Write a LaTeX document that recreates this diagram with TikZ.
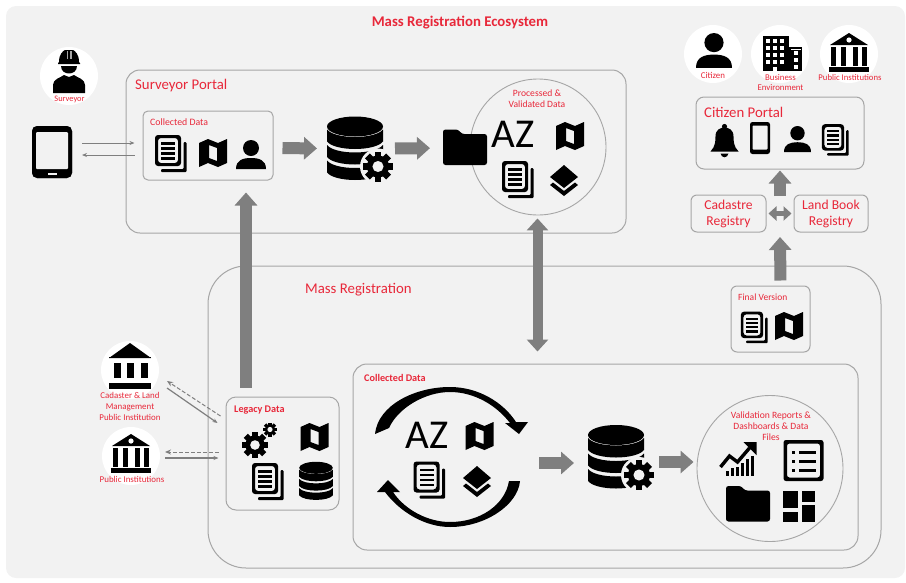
\documentclass[tikz,border=0pt]{standalone}
\usepackage{fontspec}
\setmainfont{Carlito}
\usetikzlibrary{arrows.meta}
\definecolor{bgc}{HTML}{F2F2F2}
\definecolor{redc}{HTML}{E8283A}
\definecolor{edgec}{HTML}{A6A6A6}
\definecolor{arrc}{HTML}{7F7F7F}
\tikzset{
  panel/.style={draw=edgec,line width=1pt,fill=bgc,inner sep=0pt},
  disc/.style={circle,fill=white,inner sep=0pt,minimum size=58pt},
  ring/.style={circle,draw=edgec,line width=.9pt,fill=bgc,inner sep=0pt},
  anchorbox/.style={inner sep=0pt,outer sep=0pt},
  tinyred/.style={text=redc,inner sep=0pt,font=\fontsize{8.9}{10.6}\selectfont,align=center},
  smallred/.style={text=redc,inner sep=0pt,font=\fontsize{9.6}{11.6}\selectfont,align=center},
  boldred/.style={text=redc,inner sep=0pt,font=\fontsize{10.2}{12}\selectfont\bfseries},
  bigred/.style={text=redc,inner sep=0pt,font=\fontsize{14.8}{16}\selectfont,align=center},
  azlabel/.style={inner sep=0pt,font=\fontsize{41}{43}\selectfont},
  blockarrow/.style={draw=arrc,line width=12pt,-{Triangle[width=22pt,length=13pt]}},
  twinblock/.style={draw=arrc,line width=10pt,{Triangle[width=21pt,length=12pt]}-{Triangle[width=21pt,length=12pt]}},
  smalltwin/.style={draw=arrc,line width=5pt,{Triangle[width=14pt,length=8pt]}-{Triangle[width=14pt,length=8pt]}},
  thinarrow/.style={draw=arrc,line width=1pt,-{Stealth[length=5pt,width=4pt]}},
  dasharrow/.style={draw=arrc,line width=1pt,dashed,dash pattern=on 4pt off 2pt,-{Stealth[length=6pt,width=5pt]}},
  icdocs/.pic={
    \fill[even odd rule,rounded corners=3pt] (-16,-18) rectangle (10,13) (-13,-15) rectangle (7,10);
    \foreach \yy in {-11,-6,-1,4} \fill (-10,\yy) rectangle (4,\yy+2.6);
    \fill[rounded corners=1pt] (12.5,-11) -- (15.5,-11) -- (15.5,19) -- (-10,19) -- (-10,16) -- (12.5,16) -- cycle;
  },
  icmap/.pic={
    \fill[even odd rule] (-14,-10) -- (-5,-14) -- (5,-10) -- (14,-14) -- (14,10) -- (5,14) -- (-5,10) -- (-14,14) -- cycle
      (-4,-8) -- (4,-5) -- (4,8) -- (-4,5) -- cycle;
  },
  icperson/.pic={
    \fill (0,-7) circle[radius=8];
    \fill (-15,14) .. controls (-15,5) and (-8,3) .. (0,3) .. controls (8,3) and (15,5) .. (15,14) -- cycle;
  },
  icdb/.pic={
    \fill (0,-22) ellipse[x radius=28,y radius=10];
    \foreach \yy in {-19,-3.5,12}
      \fill (-28,\yy) .. controls (-20,\yy+10) and (20,\yy+10) .. (28,\yy) -- (28,\yy+12) .. controls (20,\yy+22) and (-20,\yy+22) .. (-28,\yy+12) -- cycle;
  },
  icgear/.pic={
    \fill (0,0) circle[radius=7.4];
    \foreach \aa in {0,45,90,135} \fill[rotate=\aa] (-2.3,-10) rectangle (2.3,10);
    \fill[bgc] (0,0) circle[radius=3.7];
  },
  icdbgear/.pic={
    \pic {icdb};
    \fill[bgc] (23,18) circle[radius=18];
    \pic[shift={(23,18)},scale=1.5] {icgear};
  },
  icfolder/.pic={
    \fill[rounded corners=2.5pt] (-22,-18) -- (-7,-18) -- (-3,-13.5) -- (22,-13.5) -- (22,17.5) -- (-22,17.5) -- cycle;
  },
  ictablet/.pic={
    \fill[even odd rule,rounded corners=5pt] (-20,-26) rectangle (20,26) (-20,-26) rectangle (20,26);
    \fill[rounded corners=5pt] (-20,-26) rectangle (20,26);
    \fill[bgc,rounded corners=1pt] (-16,-20) rectangle (16,17);
    \fill[bgc] (-4.5,20.5) rectangle (4.5,22.5);
  },
  icphone/.pic={
    \fill[rounded corners=2.5pt] (-10,-16) rectangle (10,16);
    \fill[bgc,rounded corners=.8pt] (-7.5,-12.5) rectangle (7.5,11.5);
  },
  icbell/.pic={
    \fill (-14,11) .. controls (-9,6) and (-9,0) .. (-9,-4) .. controls (-9,-11) and (-4,-13) .. (0,-13) .. controls (4,-13) and (9,-11) .. (9,-4) .. controls (9,0) and (9,6) .. (14,11) -- cycle;
    \fill (0,-14) circle[radius=2.6];
    \fill (-4,13) .. controls (-3,18) and (3,18) .. (4,13) -- cycle;
  },
  icbanka/.pic={
    \fill (-21,-12) -- (0,-27) -- (21,-12) -- cycle;
    \fill (-21,-13) rectangle (21,-12);
    \foreach \xx in {-16,-3,11} \fill (\xx,-7) rectangle (\xx+7,8);
    \fill (-21,13) rectangle (21,19);
  },
  icbankb/.pic={
    \fill (-19,-8) -- (0,-20) -- (19,-8) -- cycle;
    \fill[white] (0,-13) circle[radius=2.6];
    \foreach \xx in {-18,-8.5,3.5,13} \fill (\xx,-6) rectangle (\xx+5,13);
    \fill (-20,14) rectangle (20,19);
  },
  icbuilding/.pic={
    \fill (-17,-17) rectangle (9,18);
    \fill (9,-6) rectangle (22,18);
    \foreach \xx in {-14,-7,0} \foreach \yy in {-14,-7,0,7} \fill[white] (\xx,\yy) rectangle (\xx+4,\yy+4);
    \foreach \yy in {-2,5,12} \fill[white] (14,\yy) rectangle (18,\yy+3.5);
    \fill[white] (-7,14) rectangle (-3,18);
    \fill[white] (10.5,-4) rectangle (20.5,-3);
  },
  iclayers/.pic={
    \fill (-14,-3) -- (0,-15) -- (14,-3) -- (0,8) -- cycle;
    \fill (-14,5) -- (-11,2.5) -- (0,11) -- (11,2.5) -- (14,5) -- (0,16) -- cycle;
  },
  icchart/.pic={
    \foreach \xx/\hh in {-12/5,-7/8,-2/9,3/13,8/17,13/20} \fill (\xx,17) rectangle (\xx+3.2,17-\hh);
    \draw[line width=5.5pt,line join=miter,bgc] (-17,8) -- (-8,-3) -- (0,3) -- (12,-11);
    \draw[line width=3.4pt,line join=miter] (-17,8) -- (-8,-3) -- (0,3) -- (12,-11);
    \fill (6,-17) -- (19,-17) -- (19,-4) -- cycle;
  },
  iclist/.pic={
    \fill[even odd rule,rounded corners=2.5pt] (-20,-20.5) rectangle (20,20.5) (-16.5,-17) rectangle (16.5,17);
    \foreach \yy in {-10,-1,8} {\fill (-12,\yy) rectangle (-8.5,\yy+3);\fill (-5,\yy) rectangle (12,\yy+3);}
  },
  icdash/.pic={
    \fill (-16,-15.5) rectangle (-1,1.5);
    \fill (-16,5) rectangle (-1,15.5);
    \fill (3,-15.5) rectangle (16,-5);
    \fill (3,-2) rectangle (16,15.5);
  },
  icworker/.pic={
    \fill (-10,-10) .. controls (-10,-18) and (-6,-21) .. (-4,-22) -- (4,-22) .. controls (6,-21) and (10,-18) .. (10,-10) -- (11,-9) -- (11,-8) -- (-11,-8) -- (-11,-9) -- cycle;
    \fill[edgec] (-2.5,-21) rectangle (2.5,-13);
    \fill[black] (-1,-21) rectangle (1,-12);
    \fill (-8,-6) .. controls (-8,4) and (8,4) .. (8,-6) -- cycle;
    \fill (-16,21) -- (-16,13) .. controls (-16,7) and (-9,6) .. (-5,3) -- (0,5) -- (5,3) .. controls (9,6) and (16,7) .. (16,13) -- (16,21) -- cycle;
  }
}
\begin{document}
\begin{tikzpicture}[x=1pt,y=-1pt]
\useasboundingbox (0,0) rectangle (906,582);
% backdrop
\node[fill=bgc,rounded corners=10pt,inner sep=0pt,minimum width=899pt,minimum height=572pt] (backdrop) at (455.5,292) {};
\node[text=redc,inner sep=0pt,font=\fontsize{14.8}{16}\selectfont\bfseries] (title) at (460,23) {Mass Registration Ecosystem};

% main panels
\node[panel,rounded corners=14pt,minimum width=500pt,minimum height=163pt] (portal) at (376,151.5) {};
\node[panel,rounded corners=38pt,minimum width=673pt,minimum height=302pt] (mass) at (544.5,417) {};
\node[panel,rounded corners=5pt,minimum width=130pt,minimum height=69pt] (colbox) at (208,145.5) {};
\node[ring,minimum size=136pt] (procircle) at (538,147) {};
\node[panel,rounded corners=14pt,minimum width=505pt,minimum height=186pt] (collected) at (605.5,457) {};
\node[ring,minimum size=146pt] (valcircle) at (770,468.5) {};
\node[panel,rounded corners=10pt,minimum width=113pt,minimum height=113pt] (legacy) at (282.5,453.5) {};
\node[panel,rounded corners=8pt,minimum width=168pt,minimum height=72pt] (citizenbox) at (780,133) {};
\node[panel,rounded corners=6pt,minimum width=75pt,minimum height=37pt] (cadastre) at (728.5,213.5) {};
\node[panel,rounded corners=6pt,minimum width=74pt,minimum height=37pt] (landbook) at (831,213.5) {};
\node[panel,rounded corners=6pt,minimum width=79pt,minimum height=66pt] (finalbox) at (770.5,319) {};

% discs
\node[disc] (surveyor) at (69,76) {};
\node[disc] (citizen) at (713,54) {};
\node[disc] (business) at (780,54) {};
\node[disc] (publicA) at (849,54) {};
\node[disc] (cadinst) at (130,370) {};
\node[disc] (pubinst) at (131,456) {};

% icon frames
\node[anchorbox,minimum width=40pt,minimum height=52pt] (tablet) at (52,152) {};
\node[anchorbox,minimum width=66pt,minimum height=64pt] (dbone) at (360,148.5) {};
\node[anchorbox,minimum width=44pt,minimum height=35pt] (folderone) at (465,147.5) {};
\node[anchorbox,minimum width=66pt,minimum height=65pt] (dbtwo) at (621,459.5) {};
\coordinate (looparrow) at (539,463);
\coordinate (regtip) at (780,237);
\coordinate (regbase) at (780,196);

% connectors
\draw[thinarrow,shorten <=10pt,shorten >=8pt] ([yshift=9pt]tablet.east) -- ([yshift=2.5pt]colbox.west);
\draw[thinarrow,shorten <=8pt,shorten >=10pt] ([yshift=-9.5pt]colbox.west) -- ([yshift=-3pt]tablet.east);
\draw[blockarrow,shorten <=9pt,shorten >=10pt] ([yshift=-2.5pt]colbox.east) -- (dbone.west);
\draw[blockarrow,shorten <=2pt,shorten >=13pt] (dbone.east) -- ([yshift=-.5pt]folderone.west);
\draw[blockarrow,shorten <=9pt,shorten >=12pt] ([xshift=-36.5pt]legacy.north) -- ([xshift=38pt]colbox.south);
\draw[twinblock,shorten <=3pt,shorten >=12pt] ([xshift=-.5pt]procircle.south) -- ([xshift=-68pt]collected.north);
\draw[dasharrow] ([xshift=-5pt,yshift=37.5pt]legacy.west) -- ([xshift=37pt,yshift=-11pt]cadinst.center);
\draw[thinarrow,line width=1.2pt] ([xshift=37pt,yshift=-18pt]cadinst.center) -- ([xshift=-8pt,yshift=30.5pt]legacy.west);
\draw[dasharrow] ([xshift=-7pt,yshift=1.5pt]legacy.west) -- ([xshift=34pt,yshift=4pt]pubinst.center);
\draw[thinarrow,line width=1.2pt] ([xshift=34pt,yshift=-2pt]pubinst.center) -- ([xshift=-7pt,yshift=-4.5pt]legacy.west);
\draw[blockarrow,shorten >=14pt] (looparrow) -- ([yshift=-3.5pt]dbtwo.west);
\draw[blockarrow,shorten <=5pt,shorten >=3pt] ([yshift=-2.5pt]dbtwo.east) -- ([yshift=6.5pt]valcircle.west);
\draw[blockarrow,shorten >=1pt] (regbase) -- (citizenbox.south);
\draw[smalltwin,shorten <=2pt,shorten >=2pt] (cadastre.east) -- (landbook.west);
\draw[blockarrow,shorten <=5pt] ([xshift=10pt]finalbox.north) -- (regtip);

% texts
\node[tinyred,font=\fontsize{8.4}{10}\selectfont] (tsurveyor) at (69.5,99) {Surveyor};
\node[bigred,anchor=west] (tportal) at (135,86) {Surveyor Portal};
\node[tinyred,font=\fontsize{9.8}{11}\selectfont,anchor=west] (tcol) at (150,122) {Collected Data};
\node[smallred] (tproc) at (537,98.5) {Processed \&\\Validated Data};
\node[bigred,anchor=west] (tmass) at (305,289.5) {Mass Registration};
\node[boldred,anchor=west] (tlegacy) at (234,410) {Legacy Data};
\node[boldred,anchor=west] (tcolb) at (364,378) {Collected Data};
\node[tinyred] (tcad) at (130,406.5) {Cadaster \& Land\\Management\\Public Institution};
\node[tinyred] (tpub) at (132,479) {Public Institutions};
\node[smallred,font=\fontsize{9.6}{11}\selectfont] (tval) at (771,426) {Validation Reports \&\\Dashboards \& Data\\Files};
\node[tinyred] (tcit) at (713,75) {Citizen};
\node[tinyred,font=\fontsize{8.8}{10.6}\selectfont] (tbus) at (780.5,82.5) {Business\\Environment};
\node[tinyred,font=\fontsize{8.7}{10}\selectfont] (tpubb) at (850,78) {Public Institutions};
\node[bigred,anchor=west] (tcitp) at (704,112) {Citizen Portal};
\node[bigred,font=\fontsize{13.6}{16}\selectfont] (tcads) at (728.5,214) {Cadastre\\Registry};
\node[bigred,font=\fontsize{13.6}{16}\selectfont] (tland) at (831,214) {Land Book\\Registry};
\node[tinyred,font=\fontsize{9.5}{11}\selectfont,anchor=west] (tfinal) at (738,297) {Final Version};
\node[azlabel] (azone) at (513,134) {AZ};
\node[azlabel] (aztwo) at (427,435) {AZ};

% icons
\pic at (69,72) {icworker};
\pic at (52,152) {ictablet};
\pic at (171,153) {icdocs};
\pic at (213,153) {icmap};
\pic at (251,155) {icperson};
\pic at (355,148.5) {icdbgear};
\pic at (465,147.5) {icfolder};
\pic at (570,136) {icmap};
\pic at (518,179) {icdocs};
\pic at (564,180) {iclayers};
% collected loop
\fill (375,434) .. controls (378,405) and (415,387) .. (450,387) .. controls (478,387) and (503,402) .. (516,422) -- (528,422) -- (519,434) -- (505,423) -- (510,423) .. controls (497,406) and (475,392) .. (450,392) .. controls (425,392) and (398,408) .. (389,428) -- cycle;
\fill (520,481) .. controls (518,505) and (485,527) .. (450,527) .. controls (425,527) and (400,512) .. (385,492) -- (377,492) -- (388,480) -- (400,492) -- (393,492) .. controls (405,510) and (428,522) .. (450,522) .. controls (480,522) and (505,505) .. (509,481) -- cycle;
\pic at (479.5,436) {icmap};
\pic at (429.5,479.5) {icdocs};
\pic at (477,481) {iclayers};
\pic at (616,457) {icdbgear};
% validation
\pic at (737.5,459) {icchart};
\pic at (803.5,460.5) {iclist};
\pic at (748,504) {icfolder};
\pic at (799,506.5) {icdash};
% legacy
\pic[scale=1.3] at (255,445) {icgear};
\pic[scale=.7] at (270,429.5) {icgear};
\pic at (314.5,437) {icmap};
\pic at (268,481) {icdocs};
\pic[scale=.6] at (316,481) {icdb};
% institutions
\pic at (130,370) {icbanka};
\pic at (131,454) {icbankb};
\pic at (849,53) {icbankb};
\pic[scale=1.2] at (714,51) {icperson};
\pic at (780,53) {icbuilding};
% citizen portal
\pic at (724.5,140.5) {icbell};
\pic at (760,138) {icphone};
\pic[scale=.9] at (797.5,139.5) {icperson};
\pic[scale=.85] at (835.5,139.5) {icdocs};
% final
\pic[scale=.85] at (754.5,327) {icdocs};
\pic at (789,326) {icmap};
\end{tikzpicture}
\end{document}
